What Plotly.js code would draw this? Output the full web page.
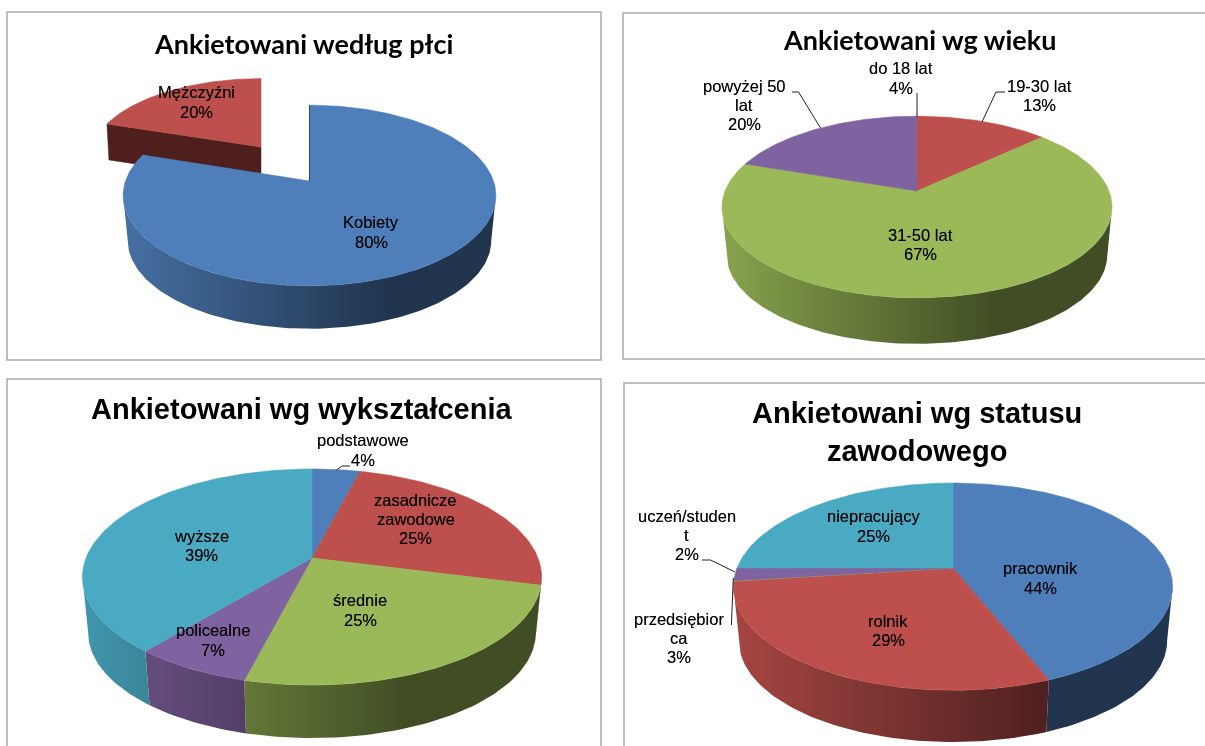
<!DOCTYPE html>
<html><head><meta charset="utf-8">
<script src="https://cdn.plot.ly/plotly-3.0.1.min.js"></script>
<style>html,body{margin:0;padding:0;background:#fff;overflow:hidden}#c{width:1205px;height:746px;filter:blur(0.35px)}</style>
</head><body><div id="c"></div>
<script>
// ---- data ----
const plecCategories = ['Kobiety', 'Mężczyźni'];
const plecValues = [80, 20];
const plecLabels = ['Kobiety<br>80%', 'Mężczyźni<br>20%'];

const wiekCategories = ['do 18 lat', '19-30 lat', '31-50 lat', 'powyżej 50 lat'];
const wiekValues = [0.05, 13, 67.3, 19.7];
const wiekLabels = ['do 18 lat<br>4%', '19-30 lat<br>13%', '31-50 lat<br>67%', 'powyżej 50<br>lat<br>20%'];

const wyksztCategories = ['podstawowe', 'zasadnicze zawodowe', 'średnie', 'policealne', 'wyższe'];
const wyksztValues = [4, 25, 25, 7, 39];
const wyksztLabels = ['podstawowe<br>4%', 'zasadnicze<br>zawodowe<br>25%', 'średnie<br>25%', 'policealne<br>7%', 'wyższe<br>39%'];

const statusCategories = ['pracownik', 'rolnik', 'przedsiębiorca', 'uczeń/student', 'niepracujący'];
const statusValues = [44, 29, 0.05, 2, 25];
const statusLabels = ['pracownik<br>44%', 'rolnik<br>29%', 'przedsiębior<br>ca<br>3%', 'uczeń/studen<br>t<br>2%', 'niepracujący<br>25%'];

const titles = ['Ankietowani według płci', 'Ankietowani wg wieku', 'Ankietowani wg wykształcenia', 'Ankietowani wg statusu<br>zawodowego'];

// ---- styling and layout ----
const BLUE='#4f7fba', RED='#bd4f4c', GREEN='#9bb958', PURPLE='#7f62a0', TEAL='#4aaac3';
const LABEL_FONT={family:'"Liberation Sans", Arial, sans-serif', size:16.5, color:'#000', shadow:'0 0 0.6px rgba(0,0,0,0.55)'};
const LABEL_LINE=19.3;

function hex(c){return [1,3,5].map(i=>parseInt(c.substr(i,2),16));}
function shade(c,k){return 'rgb('+hex(c).map(v=>Math.round(v*k)).join(',')+')';}

// circle -> screen, with the perspective of a tilted 3D pie
function rim(g,theta,low){
  const u=Math.sin(theta), v=Math.cos(theta), s=1/(1+g.p*v), f=low?g.f:1;
  return [g.ax+f*g.Rx*u*s, g.ay+(low?g.d:0)-f*g.Ry*v*s];
}
function arc(g,t0,t1,low){
  const n=Math.max(2,Math.ceil(Math.abs(t1-t0)/0.02)), out=[];
  for(let i=0;i<=n;i++) out.push(rim(g,t0+(t1-t0)*i/n,low));
  return out;
}
const traces=[];
function poly(pts,style,name){
  const x=pts.map(p=>p[0]), y=pts.map(p=>p[1]);
  x.push(x[0]); y.push(y[0]);
  traces.push(Object.assign({type:'scatter',mode:'lines',x,y,fill:'toself',name,showlegend:false,hoverinfo:'skip'},style));
}
function wallStyle(g,color){
  const w=g.Rx*1.02;
  return {line:{width:0,color:'rgba(0,0,0,0)'},
    fillgradient:{type:'horizontal',start:g.ax-w,stop:g.ax+w,
      colorscale:[[0,shade(color,0.88)],[0.7,shade(color,0.42)],[1,shade(color,0.42)]]}};
}
function drawSlices(cats,values,colors,g,from,only){
  const total=values.reduce((a,b)=>a+b,0);
  // the outer wall shows only between the two silhouette points of the ellipse
  const tR=Math.acos(-g.p), tL=2*Math.PI-tR;
  let acc=from||0; const tops=[];
  values.forEach((val,i)=>{
    const t0=acc/total*2*Math.PI, t1=(acc+val)/total*2*Math.PI; acc+=val;
    if(only&&!only.includes(i)) return;
    const a=Math.max(t0,tR), b=Math.min(t1,tL);
    if(b>a) poly(arc(g,a,b,false).concat(arc(g,b,a,true)),wallStyle(g,colors[i]),cats[i]);
    tops.push(()=>poly([[g.ax,g.ay]].concat(arc(g,t0,t1,false)),
      {fillcolor:colors[i],line:{width:0.6,color:colors[i]}},cats[i]));
  });
  tops.forEach(f=>f());
}

// chart 1: exploded slice, then main slice over it
const g1main={ax:309.5,ay:181,Rx:184,Ry:88,p:0.16,d:45.6,f:0.975};
const g1red ={ax:261,ay:147,Rx:169,Ry:78,p:0.14,d:36,f:1};
{
  const tip=rim(g1red,1.6*Math.PI,false), apex=[g1red.ax,g1red.ay];
  poly([apex,tip,[tip[0]+2,tip[1]+g1red.d],[apex[0],apex[1]+g1red.d]],
       {fillcolor:'#4f1f1d',line:{width:0.5,color:'#4f1f1d'}},plecCategories[1]);
  poly([apex].concat(arc(g1red,1.6*Math.PI,2*Math.PI,false)),{fillcolor:RED,line:{width:0.6,color:RED}},plecCategories[1]);
  drawSlices(plecCategories,plecValues,[BLUE,RED],g1main,0,[0]);
}
// chart 2-4
drawSlices(wiekCategories,wiekValues,[BLUE,RED,GREEN,PURPLE],{ax:917,ay:191,Rx:192,Ry:88,p:0.176,d:48.7,f:0.975},-wiekValues[0]);
drawSlices(wyksztCategories,wyksztValues,[BLUE,RED,GREEN,PURPLE,TEAL],{ax:312,ay:558,Rx:226,Ry:104.7,p:0.176,d:56.2,f:0.975});
drawSlices(statusCategories,statusValues,[BLUE,RED,GREEN,PURPLE,TEAL],{ax:953,ay:568,Rx:216,Ry:100.3,p:0.18,d:54.8,f:0.975});

// frames + leader lines
const frames=[[7,12,601,360],[623,13,1215,359],[7,379,601,760],[624,383,1215,760]];
const leaders=[
  [[917,93],[917,117]],
  [[1005,92],[996,92],[982,122]],
  [[792,92],[798.5,92],[820.5,128]],
  [[350,466],[342,466],[336.6,470]],
  [[702,560],[710.5,560],[735,572]],
  [[731.4,625],[733.3,578]]
];
const shapes=frames.map(r=>({type:'rect',xref:'x',yref:'y',x0:r[0],y0:r[1],x1:r[2],y1:r[3],
  line:{color:'#a9a9a9',width:1.5},fillcolor:'rgba(0,0,0,0)',layer:'below'}));
leaders.forEach(l=>shapes.push({type:'path',xref:'x',yref:'y',
  path:l.map((p,i)=>(i?'L':'M')+p[0]+' '+p[1]).join(' '),line:{color:'#222',width:1}}));
// thin visible cut face of the main slice in chart 1
const e1=rim(g1main,0,false);
shapes.push({type:'line',xref:'x',yref:'y',x0:e1[0],y0:e1[1],x1:g1main.ax,y1:g1main.ay,line:{color:'#2c4a70',width:1}});

// labels: one annotation per line, to hold the tight line spacing of the original
const labelPos=[
  [plecLabels,[[371,232],[196,102]]],
  [wiekLabels,[[901,78],[1039,95.5],[920,244.5],[744,105]]],
  [wyksztLabels,[[362.6,450],[415.6,519],[360,610],[213,640],[201.5,545.7]]],
  [statusLabels,[[1040,578],[888,630.5],[679,638],[686.6,535],[873,526]]]
];
const annotations=[];
labelPos.forEach(([txt,pos])=>txt.forEach((t,i)=>{
  const lines=t.split('<br>');
  lines.forEach((ln,k)=>annotations.push({xref:'x',yref:'y',x:pos[i][0],y:pos[i][1]+(k-(lines.length-1)/2)*LABEL_LINE,
    text:ln,showarrow:false,xanchor:'center',yanchor:'middle',align:'center',font:LABEL_FONT,borderpad:0}));
}));
const titlePos=[[303,43],[919,39],[301,409],[917,432]];
const titleFont=[
  {family:'Lato, sans-serif',size:27,color:'#000',weight:700},
  {family:'Lato, sans-serif',size:27,color:'#000',weight:700},
  {family:'"Liberation Sans", Arial, sans-serif',size:29,color:'#000',weight:700},
  {family:'"Liberation Sans", Arial, sans-serif',size:29,color:'#000',weight:700}
];
titles.forEach((t,i)=>annotations.push({xref:'x',yref:'y',x:titlePos[i][0],y:titlePos[i][1],text:'<b>'+t+'</b>',
  showarrow:false,xanchor:'center',yanchor:'middle',align:'center',font:titleFont[i]}));

Plotly.newPlot('c',traces,{
  width:1205,height:746,margin:{l:0,r:0,t:0,b:0},paper_bgcolor:'#fff',plot_bgcolor:'#fff',showlegend:false,
  xaxis:{range:[0,1205],visible:false,fixedrange:true},
  yaxis:{range:[746,0],visible:false,fixedrange:true},
  shapes,annotations
},{displayModeBar:false,staticPlot:true});
</script></body></html>
